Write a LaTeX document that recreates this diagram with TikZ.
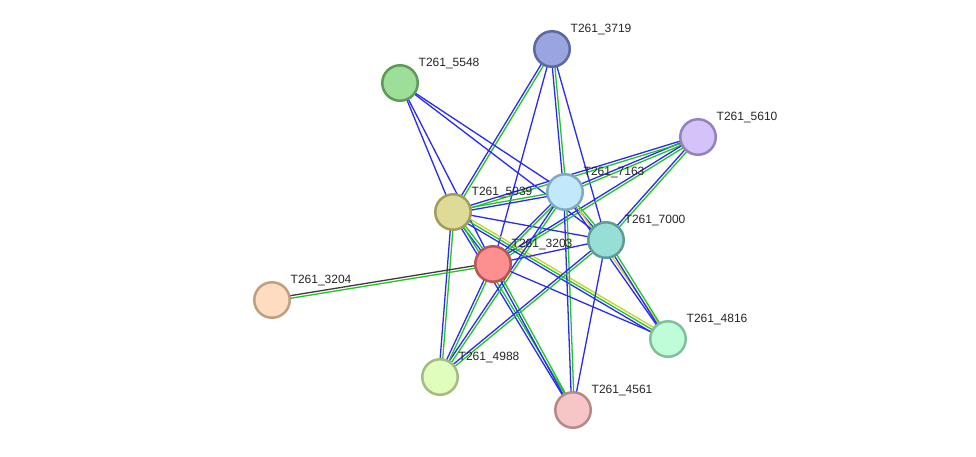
\documentclass[tikz,border=0pt]{standalone}
\usepackage{fontspec}
\setmainfont{Liberation Sans}
\usetikzlibrary{calc,backgrounds}
\definecolor{eblue}{RGB}{40,40,255}
\definecolor{egreen}{RGB}{30,200,30}
\definecolor{eyellow}{RGB}{200,210,40}
\definecolor{eblack}{RGB}{60,60,60}
\tikzset{
  prot/.style={circle,draw,line width=2.5pt,minimum size=35.5pt,inner sep=0pt},
  lbl/.style={anchor=base west,font=\fontsize{12}{14}\selectfont,inner sep=0pt,text=black!85},
  eline/.style={line width=1.3pt}
}
\newcommand\eline[6]{\draw[eline,#6] ($(#1.center)!#3!#4:(#2.center)$) -- ($(#2.center)!#3!#5:(#1.center)$);}
\newcommand\eP[4]{\eline{#1}{#2}{#3}{90}{-90}{#4}}
\newcommand\eN[4]{\eline{#1}{#2}{#3}{-90}{90}{#4}}
\newcommand\eA[3]{\draw[eline,#3] (#1.center) -- (#2.center);}
\newcommand\eB[4]{\eN{#1}{#2}{1.3pt}{#3}\eP{#1}{#2}{1.3pt}{#4}}
\newcommand\eC[5]{\eN{#1}{#2}{2.6pt}{#3}\eA{#1}{#2}{#4}\eP{#1}{#2}{2.6pt}{#5}}
\begin{document}
\begin{tikzpicture}[x=1pt,y=-1pt]
\useasboundingbox (0,0) rectangle (976,456);
% nodes
\node[prot,fill={rgb,255:red,154;green,165;blue,224},draw={rgb,255:red,91;green,104;blue,166}] (n3719) at (552,49) {};
\node[prot,fill={rgb,255:red,157;green,223;blue,152},draw={rgb,255:red,94;green,154;blue,88}] (n5548) at (400,83) {};
\node[prot,fill={rgb,255:red,211;green,195;blue,248},draw={rgb,255:red,148;green,130;blue,192}] (n5610) at (698,137) {};
\node[prot,fill={rgb,255:red,193;green,232;blue,251},draw={rgb,255:red,128;green,170;blue,191}] (n7163) at (565,192) {};
\node[prot,fill={rgb,255:red,221;green,219;blue,151},draw={rgb,255:red,160;green,158;blue,90}] (n5939) at (453,212) {};
\node[prot,fill={rgb,255:red,151;green,222;blue,214},draw={rgb,255:red,90;green,158;blue,150}] (n7000) at (606,240) {};
\node[prot,fill={rgb,255:red,252;green,143;blue,143},draw={rgb,255:red,184;green,85;blue,85}] (n3203) at (493,264) {};
\node[prot,fill={rgb,255:red,253;green,220;blue,192},draw={rgb,255:red,190;green,160;blue,128}] (n3204) at (272,300) {};
\node[prot,fill={rgb,255:red,191;green,252;blue,216},draw={rgb,255:red,128;green,192;blue,154}] (n4816) at (668,339) {};
\node[prot,fill={rgb,255:red,224;green,253;blue,190},draw={rgb,255:red,160;green,190;blue,128}] (n4988) at (440,377) {};
\node[prot,fill={rgb,255:red,246;green,198;blue,199},draw={rgb,255:red,184;green,136;blue,136}] (n4561) at (573,410) {};
% labels
\foreach \n in {3719,5548,5610,7163,5939,7000,3203,3204,4816,4988,4561}{
  \node[lbl] (l\n) at ($(n\n.center)+(18.5,-16.5)$) {T261\_\n};
}
\begin{scope}[on background layer]
\fill[white] (0,0) rectangle (976,456);
\eB{n3719}{n5939}{eblue}{egreen}
\eA{n3719}{n3203}{eblue}
\eB{n3719}{n7163}{eblue}{egreen}
\eA{n3719}{n7000}{eblue}
\eA{n5548}{n5939}{eblue}
\eA{n5548}{n3203}{eblue}
\eA{n5548}{n7163}{eblue}
\eA{n5548}{n7000}{eblue}
\eB{n5610}{n7163}{eblue}{egreen}
\eB{n5610}{n5939}{eblue}{egreen}
\eB{n5610}{n7000}{eblue}{egreen}
\eB{n5610}{n3203}{eblue}{egreen}
\eB{n5939}{n7163}{eblue}{egreen}
\eA{n5939}{n7000}{eblue}
\eB{n5939}{n3203}{eblue}{egreen}
\eB{n5939}{n4988}{eblue}{egreen}
\eB{n5939}{n4561}{eblue}{egreen}
\eC{n5939}{n4816}{eblue}{egreen}{eyellow}
\eB{n7163}{n7000}{eblue}{egreen}
\eB{n7163}{n3203}{eblue}{egreen}
\eB{n7163}{n4988}{eblue}{egreen}
\eB{n7163}{n4561}{eblue}{egreen}
\eB{n7163}{n4816}{eblue}{eyellow}
\eA{n3203}{n7000}{eblue}
\eB{n3203}{n3204}{eblack}{egreen}
\eB{n3203}{n4988}{eblue}{egreen}
\eB{n3203}{n4561}{eblue}{egreen}
\eA{n3203}{n4816}{eblue}
\eB{n7000}{n4988}{eblue}{egreen}
\eA{n7000}{n4561}{eblue}
\eB{n7000}{n4816}{eblue}{egreen}
\end{scope}
\end{tikzpicture}
\end{document}
